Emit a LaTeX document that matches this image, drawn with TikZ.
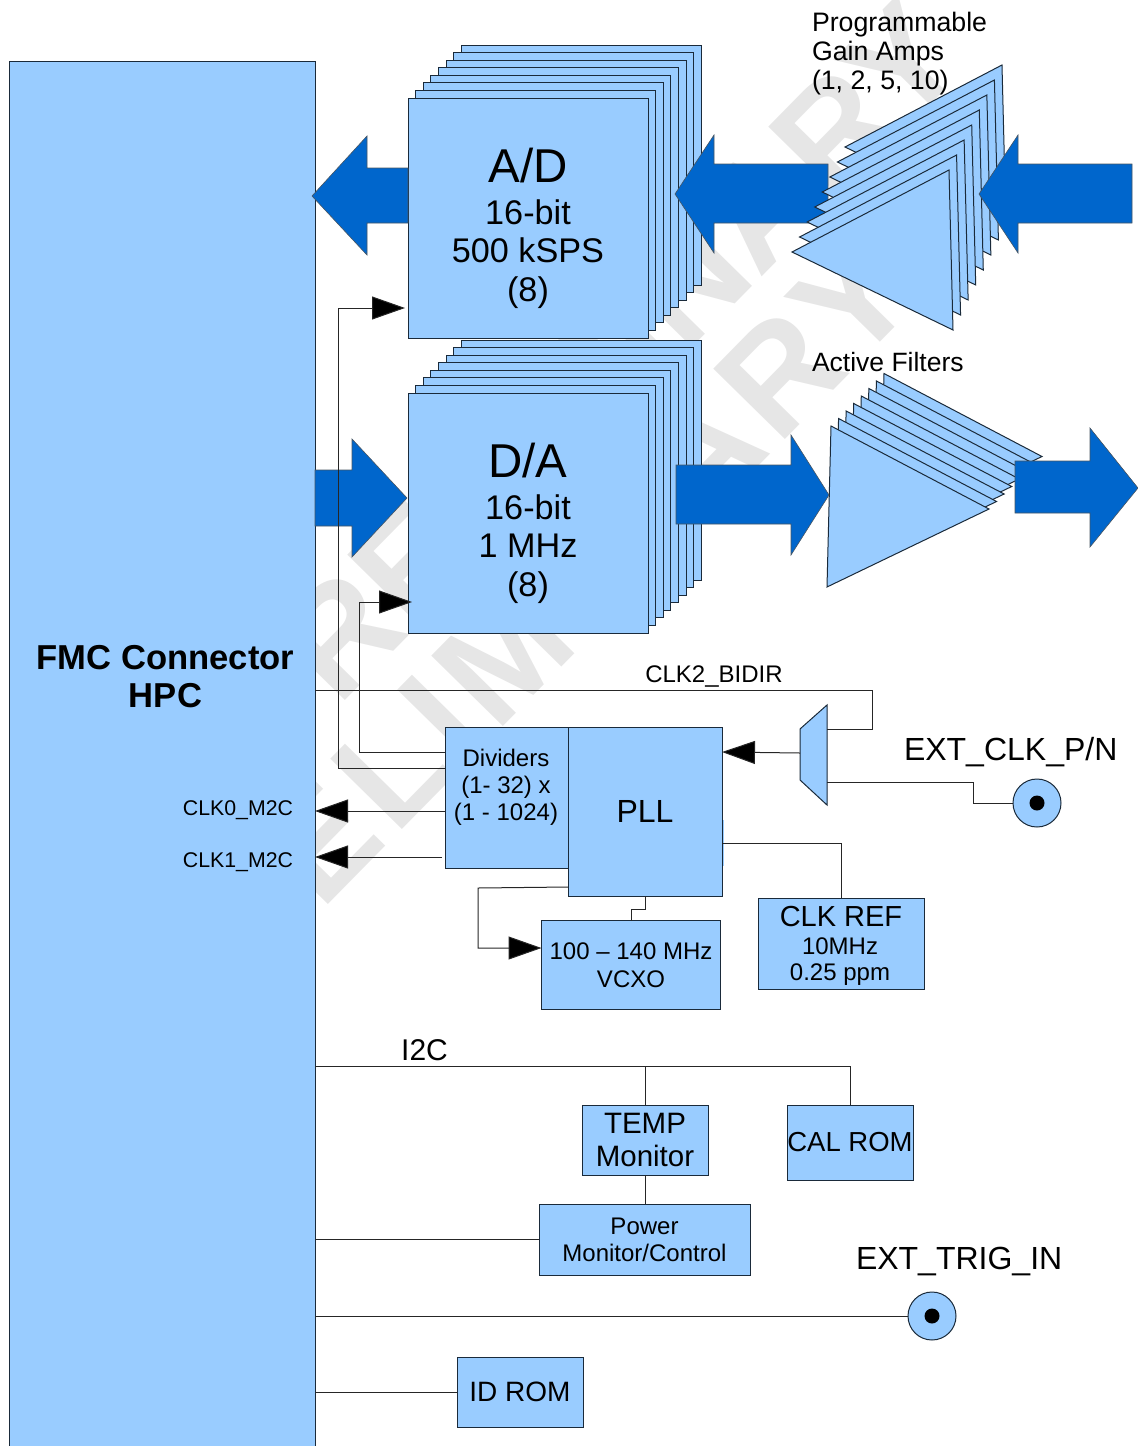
\documentclass[tikz,border=0pt]{standalone}
\usepackage{fontspec}
\setmainfont{Liberation Sans}
\usetikzlibrary{arrows.meta}
\definecolor{boxblue}{HTML}{99CCFF}
\definecolor{arrowblue}{HTML}{0066CC}
\definecolor{edgeblue}{HTML}{1A2A3A}
\definecolor{stampgray}{HTML}{E6E6E6}
\tikzset{
	block/.style={draw=edgeblue, fill=boxblue, rectangle, line width=1pt, inner sep=0pt, outer sep=0pt, align=center},
	wedge/.style={draw=edgeblue, fill=boxblue, line width=1pt, line join=miter},
	bigarrow/.style={fill=arrowblue, draw=edgeblue!80, line width=0.6pt},
	wire/.style={draw=black!85, line width=1pt},
	clkarrow/.style={wire, -{Triangle[length=33pt,width=23pt,fill=black]}},
	caption/.style={inner sep=0pt, outer sep=0pt, align=center},
	stamp/.style={text=stampgray, font=\fontsize{146}{146}\selectfont\bfseries, rotate=45.5, inner sep=0pt}
}
\newcommand{\fs}[1]{\fontsize{#1}{#1}\selectfont}
\begin{document}
\begin{tikzpicture}[x=1pt, y=-1pt]
	\useasboundingbox (0,0) rectangle (1138,1446);

	% Watermark
	\node[stamp] (stampa) at (585,385) {PRELIMINARY};
	\node[stamp] (stampb) at (510,648) {\addfontfeatures{LetterSpace=5}PRELIMINARY};

	% FMC connector
	\node[block, minimum width=306pt, minimum height=1385pt] (fmc) at (162,753.5) {};
	\node[caption, font=\fontsize{34.6}{38}\selectfont\bfseries] (fmclabel) at (165.5,677) {FMC Connector\\HPC};

	% A/D stack
	\foreach \i in {7,...,1}
		\node[block, minimum width=240pt, minimum height=240pt] (adcard\i) at ({528+7.6*\i},{218-7.57*\i}) {};
	\node[block, minimum width=240pt, minimum height=240pt] (ad) at (528,218) {};
	\node[caption, font=\fs{47.5}] (adtitle) at (528,166) {A/D};
	\node[caption, font=\fontsize{34.2}{38.5}\selectfont] (adtext) at (528,254) {16-bit\\500 kSPS\\(8)};

	% D/A stack
	\foreach \i in {7,...,1}
		\node[block, minimum width=240pt, minimum height=240pt] (dacard\i) at ({528+7.6*\i},{513-7.57*\i}) {};
	\node[block, minimum width=240pt, minimum height=240pt] (da) at (528,513) {};
	\node[caption, font=\fs{47.5}] (datitle) at (528,461) {D/A};
	\node[caption, font=\fontsize{34.2}{38.5}\selectfont] (datext) at (528,549) {16-bit\\1 MHz\\(8)};

	% Data arrows behind the amps
	\draw[bigarrow] (312,196) -- (367,136) -- (367,168) -- (408,168) -- (408,223) -- (367,223) -- (367,255) -- cycle;
	\draw[bigarrow] (675,194) -- (714,135) -- (714,164) -- (828,164) -- (828,223) -- (714,223) -- (714,253) -- cycle;

	% Programmable gain amps
	\foreach \i in {7,...,0}
		\draw[wedge] ({792+7.57*\i},{252-15*\i}) -- ({949+7.57*\i},{170-15*\i}) -- ({953+7.57*\i},{330-15*\i}) -- cycle;
	\draw[bigarrow] (979,194) -- (1018,135) -- (1018,164) -- (1132,164) -- (1132,223) -- (1018,223) -- (1018,253) -- cycle;
	\node[caption, align=left, anchor=north west, font=\fontsize{26.7}{29}\selectfont] (pgalabel) at (812,12) {Programmable\\Gain Amps\\(1, 2, 5, 10)};

	% Active filters
	\foreach \i in {7,...,0}
		\draw[wedge] ({831+7.57*\i},{426-7.5*\i}) -- ({989+7.57*\i},{509-7.5*\i}) -- ({827+7.57*\i},{587-7.5*\i}) -- cycle;
	\node[caption, anchor=west, font=\fs{26.5}] (filterlabel) at (812,362) {Active Filters};
	\draw[bigarrow] (315,470) -- (352,470) -- (352,439) -- (407,498) -- (352,557) -- (352,526) -- (315,526) -- cycle;
	\draw[bigarrow] (676,465) -- (791,465) -- (791,435) -- (829,495) -- (791,555) -- (791,524) -- (676,524) -- cycle;
	\draw[bigarrow] (1015,461) -- (1090,461) -- (1090,428) -- (1138,488) -- (1090,547) -- (1090,513) -- (1015,513) -- cycle;

	% Clock section
	\fill[boxblue] (720,820) rectangle (724,866);
	\node[block, minimum width=123pt, minimum height=141pt] (dividers) at (506.5,797.5) {};
	\node[caption, font=\fontsize{24}{27}\selectfont] (dividertext) at (506,787) {Dividers\\(1- 32) x\\(1 - 1024)};
	\node[block, minimum width=154pt, minimum height=169pt, font=\fs{32}] (pll) at (645,811.5) {PLL};
	\node[block, minimum width=179pt, minimum height=89pt, font=\fontsize{24}{28}\selectfont] (vcxo) at (631,965) {100 -- 140 MHz\\VCXO};
	\node[block, minimum width=166pt, minimum height=91pt] (clkref) at (841,943.5) {};
	\node[caption, font=\fs{29}] (clkreftitle) at (841,917) {CLK REF};
	\node[caption, font=\fontsize{24}{26}\selectfont] (clkreftext) at (840,962) {10MHz\\0.25 ppm};

	% Input mux
	\draw[wedge] (800,729) -- (827,705) -- (827,805) -- (800,780) -- cycle;
	\coordinate (muxin) at (800,753);
	\coordinate (muxtop) at (827,729);
	\coordinate (muxbot) at (827,782);

	% External connectors
	\node[block, circle, minimum size=48pt] (extclk) at (1037,803) {};
	\node[circle, fill=black, minimum size=15pt, inner sep=0pt] (extclkpin) at (extclk) {};
	\node[block, circle, minimum size=48pt] (exttrig) at (932,1316) {};
	\node[circle, fill=black, minimum size=15pt, inner sep=0pt] (exttrigpin) at (exttrig) {};
	\node[caption, anchor=west, font=\fs{32}] (extclklabel) at (904,752) {EXT\_CLK\_P/N};
	\node[caption, anchor=west, font=\fs{32}] (exttriglabel) at (856,1261) {EXT\_TRIG\_IN};

	% Low speed parts
	\node[block, minimum width=126pt, minimum height=70pt, font=\fontsize{29.5}{33}\selectfont] (temp) at (645,1140) {TEMP\\Monitor};
	\node[block, minimum width=126pt, minimum height=75pt, font=\fs{27.5}] (calrom) at (850,1142.5) {CAL ROM};
	\node[block, minimum width=211pt, minimum height=71pt, font=\fontsize{24}{27}\selectfont] (power) at (644.5,1239.5) {Power\\Monitor/Control};
	\node[block, minimum width=126pt, minimum height=70pt, font=\fs{28}] (idrom) at (520,1392) {ID ROM};

	% Sample clocks
	\coordinate (adclk) at (405,308);
	\coordinate (daclk) at (412,602);
	\draw[clkarrow] (dividers.west |- 0,768) -- (338,768) -- (338,308) -- (adclk);
	\draw[clkarrow] (dividers.west |- 0,752) -- (359,752) -- (359,602) -- (daclk);

	% Clocks to the connector
	\draw[clkarrow] (dividers.west |- 0,811) -- (fmc.east |- 0,811);
	\draw[clkarrow] (442,857) -- (fmc.east |- 0,857);
	\node[caption, anchor=east, font=\fs{21.3}] (clkzero) at (293,810) {CLK0\_M2C};
	\node[caption, anchor=east, font=\fs{21.3}] (clkone) at (293,862) {CLK1\_M2C};

	% PLL wiring
	\draw[clkarrow] (muxin) -- (pll.east |- 0,752);
	\draw[wire] (pll.east |- 0,843) -- (841,843) -- (clkref.north);
	\draw[wire] (pll.south) -- (645,909) -- (631,909) -- (vcxo.north);
	\draw[clkarrow] (pll.west |- 0,887) -- (478,888) -- (478,948) -- (vcxo.west |- 0,948);
	\draw[wire] (fmc.east |- 0,690) -- (872,690) -- (872,729) -- (muxtop);
	\node[caption, font=\fs{24}] (bidirlabel) at (714,676) {CLK2\_BIDIR};
	\draw[wire] (muxbot) -- (973,782) -- (973,803) -- (extclk.west);

	% I2C bus
	\draw[wire] (fmc.east |- 0,1066) -- (850,1066) -- (calrom.north);
	\draw[wire] (temp.north |- 0,1066) -- (temp.north);
	\draw[wire] (temp.south) -- (temp.south |- power.north);
	\node[caption, font=\fs{30}] (ibus) at (424.5,1050) {I2C};

	% Other connector lines
	\draw[wire] (fmc.east |- power.west) -- (power.west);
	\draw[wire] (fmc.east |- exttrig.west) -- (exttrig.west);
	\draw[wire] (fmc.east |- idrom.west) -- (idrom.west);
\end{tikzpicture}
\end{document}
